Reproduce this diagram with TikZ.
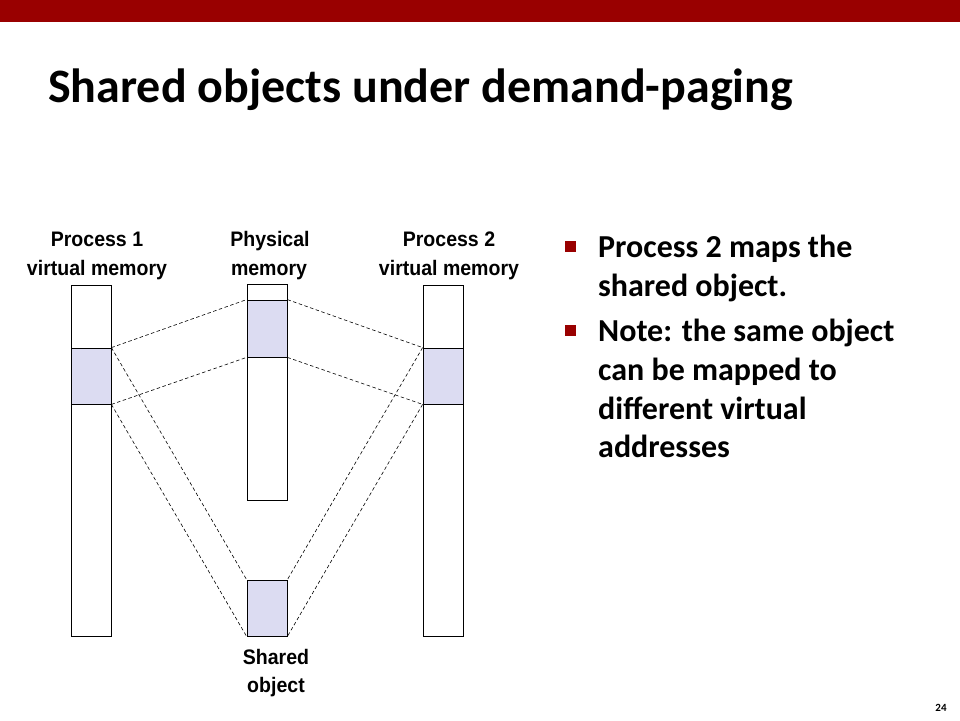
\documentclass[tikz,border=0pt]{standalone}
\usepackage{fontspec}
\setmainfont{Carlito}
\newfontfamily\arialfont[FakeStretch=0.93]{Liberation Sans}
\definecolor{slidered}{RGB}{153,0,0}
\definecolor{shade}{RGB}{220,220,242}
\begin{document}
\begin{tikzpicture}[x=1pt,y=-1pt,
  colbox/.style={draw=black,line width=0.8pt,fill=white,inner sep=0pt,minimum width=40pt},
  shbox/.style={draw=black,line width=0.8pt,fill=shade,inner sep=0pt,minimum width=40pt,minimum height=56pt},
  link/.style={line width=0.6pt,dash pattern=on 3.5pt off 2.5pt},
  lbl/.style={font=\arialfont\bfseries\fontsize{21}{24}\selectfont,inner sep=0pt,anchor=base},
  btxt/.style={font=\bfseries\fontsize{32}{38}\selectfont,inner sep=0pt,anchor=base west},
  bsq/.style={fill=slidered,inner sep=0pt,minimum size=11pt}]
\useasboundingbox (0,0) rectangle (960,720);
\fill[slidered] (0,0) rectangle (960,22);
\node[font=\bfseries\fontsize{48}{56}\selectfont,inner sep=0pt,anchor=base west] (title) at (48,102) {Shared objects under demand-paging};
% columns
\node[colbox,minimum height=351pt] (p1) at (91,460.5) {};
\node[shbox] (p1s) at (91,376) {};
\node[colbox,minimum height=216pt] (pm) at (267,392) {};
\node[shbox,minimum height=57pt] (pms) at (267,328.5) {};
\node[colbox,minimum height=351pt] (p2) at (443,460.5) {};
\node[shbox] (p2s) at (443,376) {};
\node[shbox] (so) at (267,608) {};
% links
\draw[link] (p1s.north east) -- (pms.north west);
\draw[link] (p1s.south east) -- (pms.south west);
\draw[link] (pms.north east) -- (p2s.north west);
\draw[link] (pms.south east) -- (p2s.south west);
\draw[link] (p1s.north east) -- (so.north west);
\draw[link] (p1s.south east) -- (so.south west);
\draw[link] (p2s.north west) -- (so.north east);
\draw[link] (p2s.south west) -- (so.south east);
% labels
\node[lbl] (l1a) at (97,246) {Process 1};
\node[lbl] (l1b) at (97,275) {virtual memory};
\node[lbl] (lma) at (270,246) {Physical};
\node[lbl] (lmb) at (269,275) {memory};
\node[lbl] (l2a) at (449,246) {Process 2};
\node[lbl] (l2b) at (449,275) {virtual memory};
\node[lbl] (lsa) at (276,664) {Shared};
\node[lbl] (lsb) at (276,692) {object};
% bullets
\node[bsq] (b1) at (570,246) {};
\node[bsq] (b2) at (570,330) {};
\node[btxt] (t1) at (598,257) {Process 2 maps the};
\node[btxt] (t2) at (598,296) {shared object.};
\node[btxt] (t3) at (598,341) {Note: the same object};
\node[btxt] (t4) at (598,380) {can be mapped to};
\node[btxt] (t5) at (598,419) {different virtual};
\node[btxt] (t6) at (598,457) {addresses};
\node[font=\bfseries\fontsize{11}{13}\selectfont,inner sep=0pt,anchor=base] (pg) at (941,711) {24};
\end{tikzpicture}
\end{document}
